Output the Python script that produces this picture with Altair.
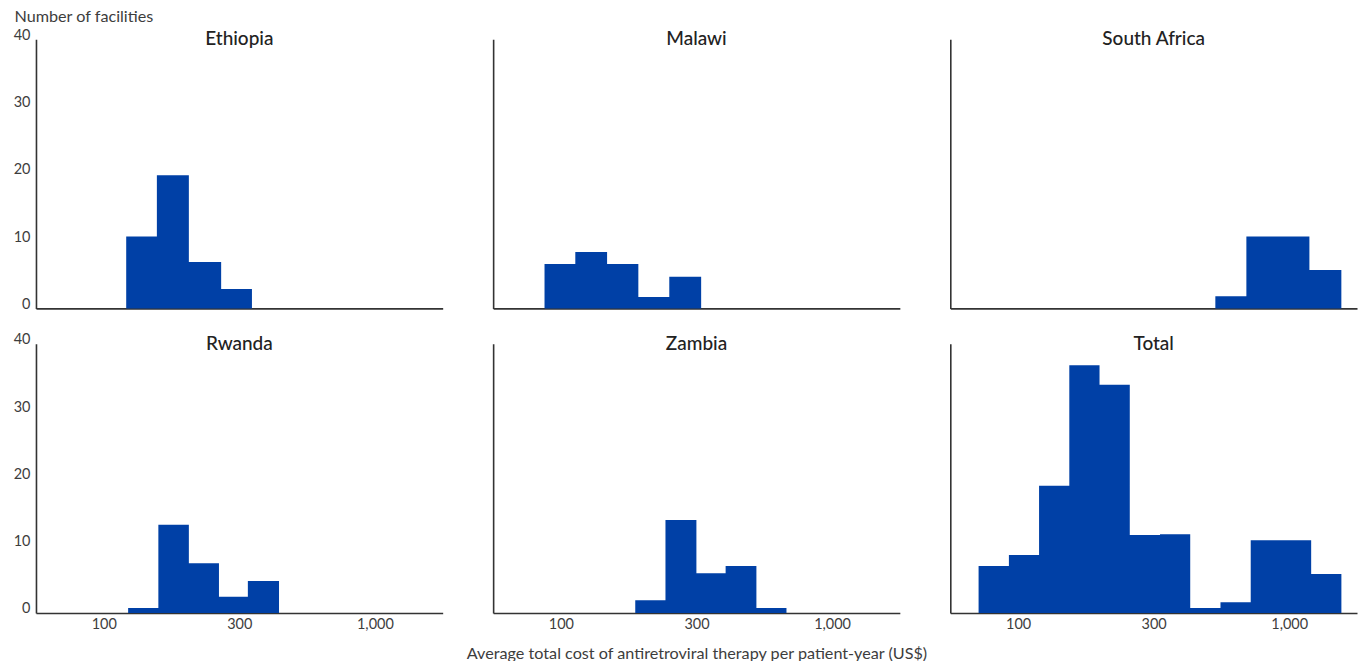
import altair as alt
import pandas as pd

# Panels in reading order (two rows of three)
panels = ["Ethiopia", "Malawi", "South Africa", "Rwanda", "Zambia", "Total"]

# Histogram bin edges (US$ per patient-year) and bar heights (number of facilities)
ethiopia_edges = [121, 157, 206, 271, 352]
ethiopia_counts = [10.7, 19.8, 6.9, 2.9]

malawi_edges = [87, 113, 148, 193, 251, 329]
malawi_counts = [6.6, 8.4, 6.6, 1.7, 4.7]

south_africa_edges = [534, 695, 908, 1187, 1557]
south_africa_counts = [1.8, 10.7, 10.7, 5.7]

rwanda_edges = [123, 159, 206, 266, 340, 443]
rwanda_counts = [0.75, 13.1, 7.4, 2.4, 4.75]

zambia_edges = [188, 243, 316, 405, 526, 679]
zambia_counts = [1.9, 13.8, 5.9, 7.0, 0.75]

total_edges = [71.5, 92.5, 119.5, 154.5, 199.7, 258.2, 333.8, 431.4,
               557.8, 721.1, 932.0, 1204.9, 1557.5]
total_counts = [7.0, 8.6, 18.9, 36.8, 33.9, 11.6, 11.7, 0.75, 1.6, 10.8, 10.8, 5.8]

# Axis ticks: half-decade steps on the log cost axis
x_tick_values = [100, 10 ** 2.5, 1000]
x_tick_labels = ["100", "300", "1,000"]
y_tick_values = [0, 10, 20, 30, 40]

series = {
    "Ethiopia": (ethiopia_edges, ethiopia_counts),
    "Malawi": (malawi_edges, malawi_counts),
    "South Africa": (south_africa_edges, south_africa_counts),
    "Rwanda": (rwanda_edges, rwanda_counts),
    "Zambia": (zambia_edges, zambia_counts),
    "Total": (total_edges, total_counts),
}

# One step outline per panel: each edge carries the height of the bin that
# starts there, the closing edge repeats the last bin's height.
rows = []
for name, (edges, counts) in series.items():
    heights = list(counts) + [counts[-1]]
    for edge, c in zip(edges, heights):
        rows.append({"panel": name, "edge": edge, "count": c})
df = pd.DataFrame(rows)
names_df = pd.DataFrame({"panel": panels})

# label expression mapping each tick value to its printed label
label_expr = "'" + x_tick_labels[-1] + "'"
for v, lab in reversed(list(zip(x_tick_values[:-1], x_tick_labels[:-1]))):
    label_expr = f"datum.value <= {v * 1.01} ? '{lab}' : " + label_expr

BLUE = "#0040a6"
AXIS_COLOR = "#333333"
LABEL_COLOR = "#3d3d3d"
FONT = "Lato"
W, H = 407, 269.4


def panel(name, row, col):
    x_axis = alt.Axis(
        values=x_tick_values,
        labelExpr=label_expr,
        labels=(row == 1),
        ticks=False,
        grid=False,
        domainColor=AXIS_COLOR,
        domainWidth=1.6,
        labelFontSize=14.5,
        labelColor=LABEL_COLOR,
        labelPadding=5,
        titleFontSize=16.2,
        titleFontWeight="normal",
        titleColor=LABEL_COLOR,
        titleBaseline="alphabetic",
        titleY=46,
    )
    y_axis = alt.Axis(
        values=y_tick_values,
        labels=(col == 0),
        ticks=False,
        grid=False,
        domainColor=AXIS_COLOR,
        domainWidth=1.6,
        labelFontSize=14.5,
        labelColor=LABEL_COLOR,
        labelBaseline="alphabetic",
        labelPadding=6,
        titleFontSize=16.2,
        titleFontWeight="normal",
        titleColor=LABEL_COLOR,
        titleAngle=0,
        titleAlign="left",
        titleBaseline="alphabetic",
        titleX=-22,
        titleY=-17.5,
    )
    x_title = ("Average total cost of antiretroviral therapy per patient-year (US$)"
               if (row == 1 and col == 1) else None)
    y_title = "Number of facilities" if (row == 0 and col == 0) else None

    bars = (
        alt.Chart(df)
        .transform_filter(alt.datum.panel == name)
        .mark_area(color=BLUE, interpolate="step-after", opacity=1)
        .encode(
            x=alt.X("edge:Q", title=x_title,
                    scale=alt.Scale(type="log", domain=[10 ** 1.75, 10 ** 3.25], nice=False),
                    axis=x_axis),
            y=alt.Y("count:Q", title=y_title,
                    scale=alt.Scale(domain=[0, 40], nice=False), axis=y_axis),
        )
    )
    # panel heading, set just inside the top of the plot area
    heading = (
        alt.Chart(names_df)
        .transform_filter(alt.datum.panel == name)
        .mark_text(fontSize=19, fontWeight=500, color="#222222",
                   baseline="alphabetic", align="center")
        .encode(text="panel:N", x=alt.value(W / 2), y=alt.value(6))
    )
    return alt.layer(bars, heading).properties(width=W, height=H)


charts = [panel(n, i // 3, i % 3) for i, n in enumerate(panels)]

chart = (
    alt.concat(*charts, columns=3, spacing={"row": 34.8, "column": 50.5}, bounds="flush")
    .properties(padding={"left": 13, "top": 8, "right": 4, "bottom": 4})
    .configure(font=FONT)
    .configure_view(stroke=None)
)

chart.save("out.html", embed_options={"renderer": "svg", "actions": False})
